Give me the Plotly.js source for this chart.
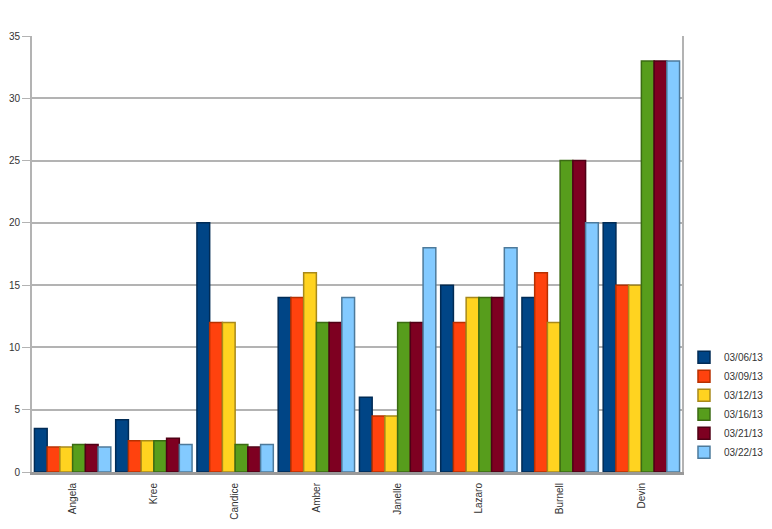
<!DOCTYPE html>
<html>
<head>
<meta charset="utf-8">
<script src="https://cdn.plot.ly/plotly-3.0.1.min.js"></script>
<style>
  body { margin: 0; background: #fff; }
  #chart { width: 772px; height: 529px; }
</style>
</head>
<body>
<div id="chart"></div>
<script>
// names along the x axis
const people = ['Angela', 'Kree', 'Candice', 'Amber', 'Janelle', 'Lazaro', 'Burnell', 'Devin'];

// one series per date
const dates = ['03/06/13', '03/09/13', '03/12/13', '03/16/13', '03/21/13', '03/22/13'];
const mar06 = [3.5, 4.2, 20, 14, 6, 15, 14, 20];
const mar09 = [2, 2.5, 12, 14, 4.5, 12, 16, 15];
const mar12 = [2, 2.5, 12, 16, 4.5, 14, 12, 15];
const mar16 = [2.2, 2.5, 2.2, 12, 12, 14, 25, 33];
const mar21 = [2.2, 2.7, 2, 12, 12, 14, 25, 33];
const mar22 = [2, 2.2, 2.2, 14, 18, 18, 20, 33];

const yTicks = [0, 5, 10, 15, 20, 25, 30, 35];

const series = [mar06, mar09, mar12, mar16, mar21, mar22];
const fills = ['#004586', '#ff420e', '#ffd320', '#579d1c', '#7e0021', '#83caff'];
const edges = ['#002b55', '#b83000', '#a8891a', '#3b6b13', '#4f0015', '#4d7a9b'];

const traces = series.map((vals, i) => ({
    x: people,
    y: vals,
    name: dates[i],
    type: 'bar',
    marker: {
        color: fills[i],
        line: { color: edges[i], width: 1.5 }
    }
}));

const layout = {
    width: 772,
    height: 529,
    margin: { l: 32, r: 90, t: 36, b: 57 },
    paper_bgcolor: '#ffffff',
    plot_bgcolor: '#ffffff',
    font: { family: 'Liberation Sans, Arial, sans-serif', size: 10, color: '#333333' },
    barmode: 'group',
    bargap: 0.06,
    bargroupgap: 0,
    showlegend: true,
    legend: {
        xref: 'container',
        yref: 'container',
        x: 0.886,
        y: 0.235,
        xanchor: 'left',
        yanchor: 'middle',
        font: { size: 10, color: '#333333' },
        tracegroupgap: 0,
        itemwidth: 30
    },
    xaxis: {
        type: 'category',
        tickangle: -90,
        showgrid: false,
        showline: true,
        linecolor: '#999999',
        linewidth: 3,
        ticks: '',
        ticklabelstandoff: 4,
        tickfont: { size: 10, color: '#333333' }
    },
    yaxis: {
        range: [0, 35],
        tickvals: yTicks,
        ticktext: yTicks.map(String),
        showgrid: true,
        gridcolor: '#b3b3b3',
        gridwidth: 2,
        showline: true,
        linecolor: '#b3b3b3',
        linewidth: 2,
        mirror: true,
        zeroline: false,
        ticks: 'outside',
        ticklen: 8,
        tickcolor: '#b3b3b3',
        tickfont: { size: 10, color: '#333333' }
    }
};

Plotly.newPlot('chart', traces, layout, { displayModeBar: false, staticPlot: true });
</script>
</body>
</html>
